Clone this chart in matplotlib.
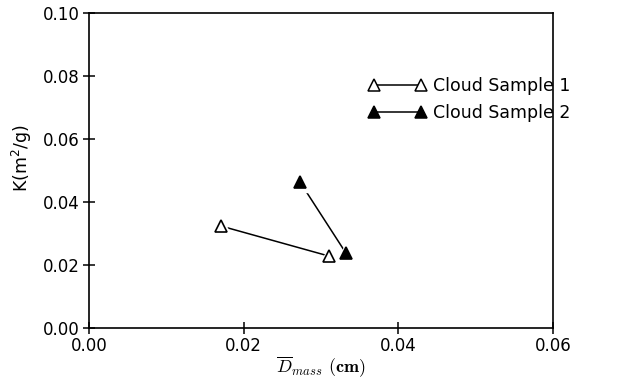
import matplotlib.pyplot as plt
from matplotlib.lines import Line2D

plt.rcParams['font.family'] = ['DejaVu Sans']
plt.rcParams['mathtext.fontset'] = 'cm'

# mass mean diameter (cm) and extinction coefficient K (m^2/g)
d_s1 = [0.0171, 0.0310]
k_s1 = [0.0324, 0.0229]
d_s2 = [0.0273, 0.0332]
k_s2 = [0.0464, 0.0240]

fig = plt.figure(figsize=(6.26, 3.86), dpi=100)
ax = fig.add_axes([0.142, 0.150, 0.741, 0.816])

for d, k, fill in [(d_s1, k_s1, 'white'), (d_s2, k_s2, 'black')]:
    ax.plot(d, k, color='black', lw=1.1, zorder=2)
    # white halo so the line stops short of each marker
    ax.plot(d, k, ls='none', marker='^', ms=15, mfc='white', mec='white', zorder=3)
    ax.plot(d, k, ls='none', marker='^', ms=9, mfc=fill, mec='black', mew=1.2, zorder=4)

ax.set_xlim(0, 0.06)
ax.set_ylim(0, 0.10)
ax.set_xticks([0.00, 0.02, 0.04, 0.06])
ax.set_yticks([0.00, 0.02, 0.04, 0.06, 0.08, 0.10])
ax.xaxis.set_major_formatter(plt.FormatStrFormatter('%.2f'))
ax.yaxis.set_major_formatter(plt.FormatStrFormatter('%.2f'))
ax.tick_params(direction='inout', length=9, width=1.1, labelsize=12, pad=2)
for s in ax.spines.values():
    s.set_linewidth(1.2)

ax.set_xlabel(r'$\overline{D}_{mass}$ $\mathbf{(cm)}$', fontsize=13)
ax.xaxis.set_label_coords(0.5, -0.085)
ax.set_ylabel('K(m$^{2}$/g)', fontsize=12.5, math_fontfamily='dejavusans')
ax.yaxis.set_label_coords(-0.118, 0.54)

h1 = Line2D([], [], color='black', lw=1.1, marker='^', ms=8, mfc='white', mec='black', mew=1.1)
h2 = Line2D([], [], color='black', lw=1.1, marker='^', ms=8, mfc='black', mec='black', mew=1.1)
fig.legend([h1, h2], ['Cloud Sample 1', 'Cloud Sample 2'], numpoints=2,
           loc='upper left', bbox_to_anchor=(0.578, 0.818), frameon=False,
           fontsize=12.5, handlelength=3.3, handletextpad=0.4, labelspacing=0.5,
           borderaxespad=0)

fig.savefig('out.png', dpi=100)
